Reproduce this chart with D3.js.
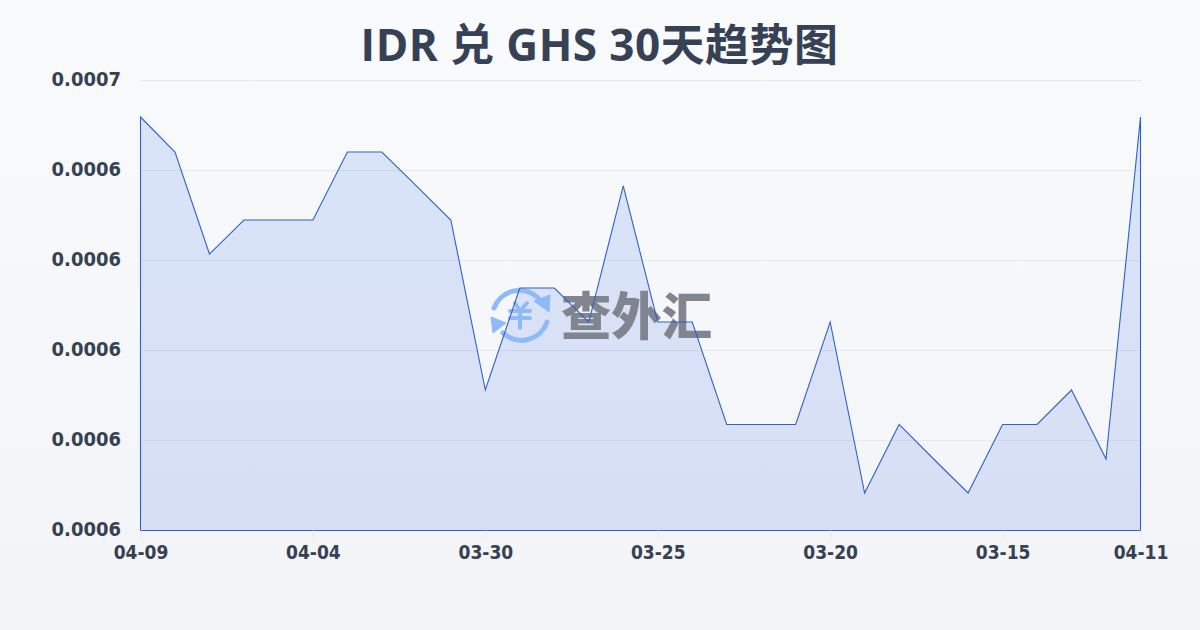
<!DOCTYPE html>
<html><head><meta charset="utf-8">
<script src="https://cdn.jsdelivr.net/npm/d3@7"></script>
<style>html,body{margin:0;padding:0;background:#f8fafc}svg{display:block}</style>
</head><body><svg id="c" width="1200" height="630"></svg>
<script>
const chartTitle = "IDR 兑 GHS 30天趋势图";
const dates = ["04-09","04-08","04-07","04-06","04-05","04-04","04-03","04-02","04-01","03-31","03-30","03-29","03-28","03-27","03-26","03-25","03-24","03-23","03-22","03-21","03-20","03-19","03-18","03-17","03-16","03-15","03-14","03-13","03-12","04-11"];
const rates = [0.00064189,0.00063411,0.00061144,0.000619,0.000619,0.000619,0.00063411,0.00063411,0.00062656,0.000619,0.00058122,0.00060389,0.00060389,0.00059633,0.00062656,0.00059633,0.00059633,0.00057356,0.00057356,0.00057356,0.00059633,0.00055833,0.00057356,0.00056589,0.00055833,0.00057356,0.00057356,0.00058122,0.00056589,0.00064189];
const xTickDates = ["04-09","04-04","03-30","03-25","03-20","03-15","04-11"];
const yTicks = [0.00055,0.00057,0.00059,0.00061,0.00063,0.00065];
const yTickLabels = ["0.0006","0.0006","0.0006","0.0006","0.0006","0.0007"];

const svg = d3.select("#c");
const defs = svg.append("defs");
const bg = defs.append("linearGradient").attr("id","bg").attr("x1",0).attr("y1",0).attr("x2",0).attr("y2",1);
bg.append("stop").attr("offset","0%").attr("stop-color","#f8fafc");
bg.append("stop").attr("offset","100%").attr("stop-color","#f2f4f7");
svg.append("rect").attr("width",1200).attr("height",630).attr("fill","url(#bg)");

const x = d3.scalePoint().domain(dates).range([140.5,1140.5]);
const y = d3.scaleLinear().domain([yTicks[0],yTicks[yTicks.length-1]]).range([530.5,80.5]);

const grid = svg.append("g");
grid.selectAll("line").data(yTicks.slice(1)).join("line")
  .attr("x1",140).attr("x2",1141).attr("y1",d=>y(d)).attr("y2",d=>y(d))
  .attr("stroke","#e6e9ee").attr("stroke-width",1);

const area = d3.area().x(d=>x(d.date)).y0(y(yTicks[0])).y1(d=>y(d.rate));
const pts = dates.map((date,i)=>({date,rate:rates[i]}));
const ag = defs.append("linearGradient").attr("id","ag").attr("x1",0).attr("y1",0).attr("x2",0).attr("y2",1);
ag.append("stop").attr("offset","0%").attr("stop-color","#2563eb").attr("stop-opacity",0.14);
ag.append("stop").attr("offset","100%").attr("stop-color","#1d4ed8").attr("stop-opacity",0.13);
svg.append("path").datum(pts).attr("d",area).attr("fill","url(#ag)");

const wmColor = "#8fb9f7";
const wm = svg.append("g");
const ic = wm.append("g").attr("fill","none").attr("stroke",wmColor).attr("stroke-width",5).attr("stroke-linecap","round");
ic.append("path").attr("d","M494 308A27 27 0 0 1 538 298");
ic.append("path").attr("d","M547 322A27 27 0 0 1 503 333");
wm.append("path").attr("d","M534 301L550 295L549 312Z").attr("fill",wmColor).attr("stroke",wmColor);
wm.append("path").attr("d","M491 317L506 323L493 333Z").attr("fill",wmColor).attr("stroke",wmColor);
const yen = wm.append("g").attr("stroke",wmColor).attr("stroke-width",4).attr("stroke-linecap","round").attr("fill","none");
yen.append("path").attr("d","M515 303L520 311L527 303M520 311L520 328M510 311L530 311M510 318L530 318");
wm.append("text").attr("x",561).attr("y",335).attr("font-family","'Noto Sans CJK SC'").attr("font-weight",900).attr("font-size",51)
  .attr("textLength",151).attr("lengthAdjust","spacingAndGlyphs").attr("fill","#80858f").text("查外汇");

svg.append("path").datum(pts).attr("d",d=>area(d)+"Z")
  .attr("fill","none").attr("stroke","#2f62c8").attr("stroke-width",1.1).attr("stroke-linejoin","miter");

const latin = "'DejaVu Sans Condensed','DejaVu Sans'";
svg.append("text").attr("x",599.5).attr("y",61).attr("text-anchor","middle").attr("letter-spacing",0.45)
  .attr("font-family","'Open Sans','Noto Sans CJK SC'").attr("font-weight",700).attr("font-size",44).attr("fill","#364156").text(chartTitle);

const yAxis = d3.axisLeft(y).tickValues(yTicks).tickSize(0).tickFormat((d,i)=>yTickLabels[i]);
const gy = svg.append("g").attr("transform","translate(121,-2)").call(yAxis);
gy.select(".domain").remove();
gy.selectAll("text").attr("font-family",latin).attr("font-stretch","condensed").attr("font-weight",700).attr("font-size",20).attr("fill","#374151").attr("x",0).attr("dy","0.35em");

const xAxis = d3.axisBottom(x).tickValues(xTickDates).tickSize(10).tickPadding(5);
const gx = svg.append("g").attr("transform","translate(0,530.5)").call(xAxis);
gx.select(".domain").remove();
gx.selectAll("line").attr("stroke","#eaecf0");
gx.selectAll("text").attr("font-family",latin).attr("font-stretch","condensed").attr("font-weight",700).attr("font-size",19).attr("fill","#374151");
</script></body></html>
